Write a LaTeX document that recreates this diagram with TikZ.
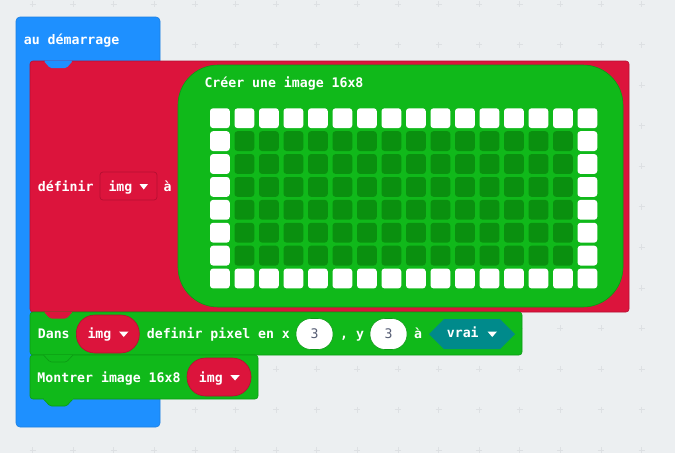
\documentclass[tikz,border=0pt]{standalone}
\usepackage{fontspec}
\newfontfamily\mcfont{DejaVu Sans Mono}
\definecolor{bgc}{HTML}{ECEFF1}
\definecolor{plusc}{HTML}{DDE0E3}
\definecolor{bluec}{HTML}{1E90FF}
\definecolor{blueb}{HTML}{1C7FE0}
\definecolor{redc}{HTML}{DC143C}
\definecolor{redb}{HTML}{B50F31}
\definecolor{greenc}{HTML}{10B91A}
\definecolor{greenb}{HTML}{0C9A14}
\definecolor{cellc}{HTML}{0A900F}
\definecolor{tealc}{HTML}{008A8B}
\definecolor{numc}{HTML}{575E75}
\tikzset{
  lbl/.style={anchor=base west, inner sep=0pt, text=white, font=\mcfont\bfseries\fontsize{13.2}{15}\selectfont},
  numlbl/.style={anchor=base, inner sep=0pt, text=numc, font=\mcfont\fontsize{13.2}{15}\selectfont},
  pill/.style={draw=redb, fill=redc, line width=0.6pt, rounded corners=18.5pt, inner sep=0pt},
  numpill/.style={draw=#1, fill=white, line width=0.6pt, rounded corners=15pt, inner sep=0pt, minimum width=37pt, minimum height=31pt},
  cellw/.style={fill=white, rounded corners=3pt},
  celld/.style={fill=cellc, rounded corners=3pt},
  ddarrow/.style={fill=white},
  plusmark/.style={draw=plusc, line width=0.7pt}
}
\begin{document}
\begin{tikzpicture}[x=1pt,y=-1pt]
\useasboundingbox[fill=bgc] (0,0) rectangle (675,453);
% grid marks
\foreach \i in {0,...,16}{
  \foreach \j in {0,...,11}{
    \draw[plusmark] ({32.5+40.6*\i-3},{4+40.55*\j}) -- ({32.5+40.6*\i+3},{4+40.55*\j})
                    ({32.5+40.6*\i},{4+40.55*\j-3}) -- ({32.5+40.6*\i},{4+40.55*\j+3});
  }
}
% blue C block
\node[draw=blueb, fill=bluec, line width=0.6pt, rounded corners=4pt, minimum width=144pt, minimum height=410pt, inner sep=0pt] (blueblk) at (88,222) {};
\node[lbl] (start) at (23.7,44.5) {au démarrage};
% red define block
\node[draw=redb, fill=redc, line width=0.6pt, rounded corners=3pt, minimum width=599pt, minimum height=251pt, inner sep=0pt] (redblk) at (329.5,186.5) {};
\fill[bluec, rounded corners=1.5pt] (43.5,60.7) -- (50,68) -- (66.5,68) -- (73,60.7) -- cycle;
\node[lbl] (definir) at (37.7,191) {définir};
\node[draw=redb, fill=redc, line width=0.7pt, rounded corners=3pt, minimum width=57pt, minimum height=28pt, inner sep=0pt] (ddimg) at (128.5,186) {};
\node[lbl] (imgtxt1) at (108.3,191) {img};
\fill[ddarrow] (139.5,184) -- (148,184) -- (143.75,189.5) -- cycle;
\node[lbl] (a1) at (163.3,191) {à};
% green image block
\node[draw=greenb, fill=greenc, line width=0.6pt, rounded corners=40pt, minimum width=445pt, minimum height=242pt, inner sep=0pt] (imgblk) at (400.5,186) {};
\node[lbl] (creer) at (204.3,87) {Créer une image 16x8};
\foreach \i in {0,...,15}{
  \foreach \j in {0,...,7}{
    \pgfmathsetmacro{\border}{(\i==0 || \i==15 || \j==0 || \j==7) ? 1 : 0}
    \ifdim\border pt>0.5pt
      \fill[cellw] ({210+24.5*\i},{108.3+22.9*\j}) rectangle ++(19.8,19.8);
    \else
      \fill[celld] ({210+24.5*\i},{108.3+22.9*\j}) rectangle ++(19.8,19.8);
    \fi
  }
}
% Dans block
\node[draw=greenb, fill=greenc, line width=0.6pt, rounded corners=3pt, minimum width=492pt, minimum height=43pt, inner sep=0pt] (dansblk) at (276,333.5) {};
\fill[redc, rounded corners=1.5pt] (43.5,311.5) -- (50,318.5) -- (66.5,318.5) -- (73,311.5) -- cycle;
\node[lbl] (dans) at (37.7,338) {Dans};
\node[pill, minimum width=63pt, minimum height=38pt] (pill1) at (107.8,334) {};
\node[lbl] (imgtxt2) at (87.3,338) {img};
\fill[ddarrow] (119,331.5) -- (128.5,331.5) -- (123.75,337) -- cycle;
\node[lbl] (defpix) at (146.7,338) {definir pixel en x};
\node[numpill=greenb] (n1) at (314.5,334) {};
\node[numlbl] (n1t) at (314.5,338.5) {3};
\node[lbl] (commay) at (340,338) {, y};
\node[numpill=greenb] (n2) at (388.5,334) {};
\node[numlbl] (n2t) at (388.5,338.5) {3};
\node[lbl] (a2) at (414,338) {à};
\fill[tealc] (429,334) -- (444,319) -- (500,319) -- (515,334) -- (500,349) -- (444,349) -- cycle;
\node[inner sep=0pt, minimum width=86pt, minimum height=30pt] (vraibox) at (472,334) {};
\node[lbl] (vrai) at (446.7,337.5) {vrai};
\fill[ddarrow] (487.5,331.5) -- (497,331.5) -- (492.25,337) -- cycle;
% Montrer block
\node[draw=greenb, fill=greenc, line width=0.6pt, rounded corners=3pt, minimum width=228pt, minimum height=44pt, inner sep=0pt] (montblk) at (144,377) {};
\filldraw[fill=greenc, draw=greenb, line width=0.6pt, rounded corners=1.5pt] (43.5,355) -- (50,362) -- (66.5,362) -- (73,355);
\filldraw[fill=greenc, draw=greenb, line width=0.6pt, rounded corners=1.5pt] (43.5,399) -- (50,406) -- (66.5,406) -- (73,399);
\fill[greenc] (44,398.2) rectangle (72.5,399.6);
\node[lbl] (montrer) at (37.3,382.3) {Montrer image 16x8};
\node[pill, minimum width=64pt, minimum height=38pt] (pill2) at (219,377) {};
\node[lbl] (imgtxt3) at (198.7,382) {img};
\fill[ddarrow] (230.3,375) -- (239.8,375) -- (235.05,380.5) -- cycle;
\end{tikzpicture}
\end{document}
